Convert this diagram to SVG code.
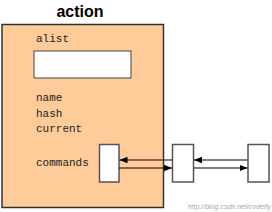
<svg xmlns="http://www.w3.org/2000/svg" width="272" height="212" viewBox="0 0 272 212">
<style>
.lbl{font-family:"Liberation Mono","DejaVu Sans Mono",monospace;font-size:11px;fill:#222}
.cell{fill:#fff;stroke:#555;stroke-width:1.5}
.con{stroke:#000;stroke-width:1;fill:none}
</style>
<defs>
<marker id="ah" viewBox="0 0 10 10" refX="10" refY="5" markerWidth="8" markerHeight="8" orient="auto" markerUnits="userSpaceOnUse">
<path d="M0,1 L10,5 L0,9 z" fill="#000"/>
</marker>
</defs>
<rect width="272" height="212" fill="#fff"/>
<g id="action">
<text x="80" y="17" text-anchor="middle" style="font-family:'Liberation Sans',Arial,sans-serif;font-size:16px;font-weight:bold" fill="#000">action</text>
<rect x="2" y="24.5" width="161.5" height="183" fill="#ffcc99" stroke="#333" stroke-width="1.5"/>
<text class="lbl" x="36" y="42">alist</text>
<rect x="34" y="51" width="97" height="27" fill="#fff" stroke="#444" stroke-width="1"/>
<text class="lbl" x="36" y="101">name</text>
<text class="lbl" x="36" y="117">hash</text>
<text class="lbl" x="36" y="132">current</text>
<text class="lbl" x="36" y="166">commands</text>
</g>
<g id="node1"><rect class="cell" x="99.5" y="144.5" width="19.5" height="37.5"/></g>
<g id="node2"><rect class="cell" x="172.5" y="144.5" width="21" height="37.5"/></g>
<g id="node3"><rect class="cell" x="248" y="144.5" width="21" height="37.5"/></g>
<g id="connectors">
<line class="con" x1="172" y1="160" x2="119.5" y2="160" marker-end="url(#ah)"/>
<line class="con" x1="119" y1="168" x2="172" y2="168" marker-end="url(#ah)"/>
<line class="con" x1="247.5" y1="160" x2="194" y2="160" marker-end="url(#ah)"/>
<line class="con" x1="194" y1="168" x2="247.5" y2="168" marker-end="url(#ah)"/>
</g>
<text x="271" y="209" text-anchor="end" style="font-family:'Liberation Sans',Arial,sans-serif;font-size:7px;font-style:italic" fill="#aaa">http://blog.csdn.net/codefly</text>
</svg>
